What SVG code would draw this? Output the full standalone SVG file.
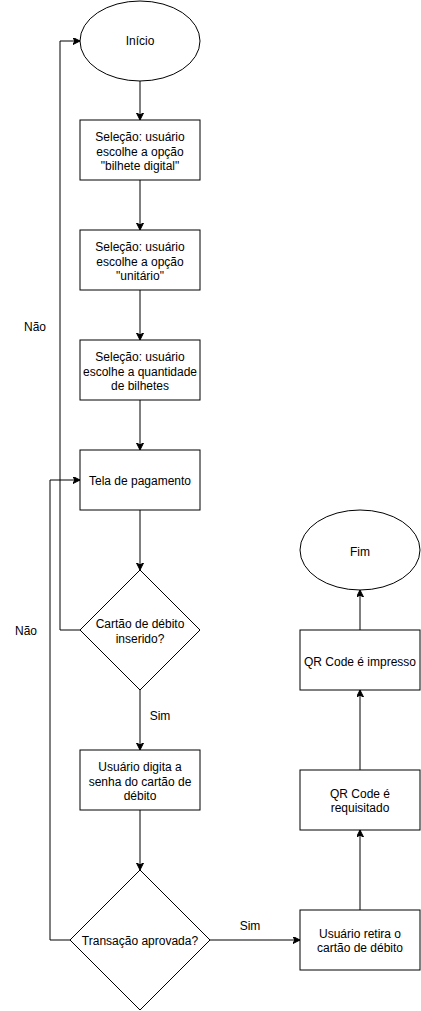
<svg xmlns="http://www.w3.org/2000/svg" width="421" height="1011" viewBox="0 0 421 1011">
<style>
.s{fill:#ffffff;stroke:#000000;stroke-width:1}
.t{font-family:"Liberation Sans",Arial,Helvetica,sans-serif;font-size:12px;fill:#000000;text-anchor:middle}
.c{fill:none;stroke:#000000;stroke-width:1}
</style>
<defs>
<marker id="a" markerUnits="userSpaceOnUse" markerWidth="10" markerHeight="10" refX="7" refY="3.5" orient="auto" viewBox="0 0 10 10">
<path d="M0,0 L7,3.5 L0,7 L1.8,3.5 Z" fill="#000000" stroke="#000000" stroke-width="1"/>
</marker>
</defs>
<rect x="0" y="0" width="421" height="1011" fill="#ffffff"/>
<g id="connectors">
<path class="c" d="M140,81 L140,120" marker-end="url(#a)"/>
<path class="c" d="M140,180 L140,230" marker-end="url(#a)"/>
<path class="c" d="M140,290 L140,340" marker-end="url(#a)"/>
<path class="c" d="M140,400 L140,450" marker-end="url(#a)"/>
<path class="c" d="M140,510 L140,570" marker-end="url(#a)"/>
<path class="c" d="M80,630 L60,630 L60,41 L80,41" marker-end="url(#a)"/>
<path class="c" d="M140,690 L140,750" marker-end="url(#a)"/>
<path class="c" d="M140,810 L140,870" marker-end="url(#a)"/>
<path class="c" d="M70,940 L50,940 L50,480 L80,480" marker-end="url(#a)"/>
<path class="c" d="M210,940 L300,940" marker-end="url(#a)"/>
<path class="c" d="M360,910 L360,830" marker-end="url(#a)"/>
<path class="c" d="M360,770 L360,690" marker-end="url(#a)"/>
<path class="c" d="M360,630 L360,590" marker-end="url(#a)"/>
<text class="t" x="35" y="331">Não</text>
<text class="t" x="26" y="635">Não</text>
<text class="t" x="160" y="720">Sim</text>
<text class="t" x="250" y="930">Sim</text>
</g>
<g id="inicio">
<ellipse class="s" cx="140" cy="41" rx="60" ry="40"/>
<text class="t" x="140" y="45">Início</text>
</g>
<g id="sel1">
<rect class="s" x="80" y="120" width="120" height="60"/>
<text class="t" x="140" y="141">Seleção: usuário</text>
<text class="t" x="140" y="155.5">escolhe a opção</text>
<text class="t" x="140" y="170">"bilhete digital"</text>
</g>
<g id="sel2">
<rect class="s" x="80" y="230" width="120" height="60"/>
<text class="t" x="140" y="251">Seleção: usuário</text>
<text class="t" x="140" y="265.5">escolhe a opção</text>
<text class="t" x="140" y="280">"unitário"</text>
</g>
<g id="sel3">
<rect class="s" x="80" y="340" width="120" height="60"/>
<text class="t" x="140" y="361">Seleção: usuário</text>
<text class="t" x="140" y="375.5">escolhe a quantidade</text>
<text class="t" x="140" y="390">de bilhetes</text>
</g>
<g id="pagamento">
<rect class="s" x="80" y="450" width="120" height="60"/>
<text class="t" x="140" y="485">Tela de pagamento</text>
</g>
<g id="cartao">
<path class="s" d="M140,570 L200,630 L140,690 L80,630 Z"/>
<text class="t" x="140" y="628">Cartão de débito</text>
<text class="t" x="140" y="642.5">inserido?</text>
</g>
<g id="senha">
<rect class="s" x="80" y="750" width="120" height="60"/>
<text class="t" x="140" y="771">Usuário digita a</text>
<text class="t" x="140" y="785.5">senha do cartão de</text>
<text class="t" x="140" y="800">débito</text>
</g>
<g id="transacao">
<path class="s" d="M140,870 L210,940 L140,1010 L70,940 Z"/>
<text class="t" x="140" y="945">Transação aprovada?</text>
</g>
<g id="retira">
<rect class="s" x="300" y="910" width="120" height="60"/>
<text class="t" x="360" y="937.5">Usuário retira o</text>
<text class="t" x="360" y="952">cartão de débito</text>
</g>
<g id="requisitado">
<rect class="s" x="300" y="770" width="120" height="60"/>
<text class="t" x="360" y="797.5">QR Code é</text>
<text class="t" x="360" y="812">requisitado</text>
</g>
<g id="impresso">
<rect class="s" x="300" y="630" width="120" height="60"/>
<text class="t" x="360" y="665.5">QR Code é impresso</text>
</g>
<g id="fim">
<ellipse class="s" cx="360" cy="550" rx="60" ry="40"/>
<text class="t" x="360" y="555.5">Fim</text>
</g>
</svg>
